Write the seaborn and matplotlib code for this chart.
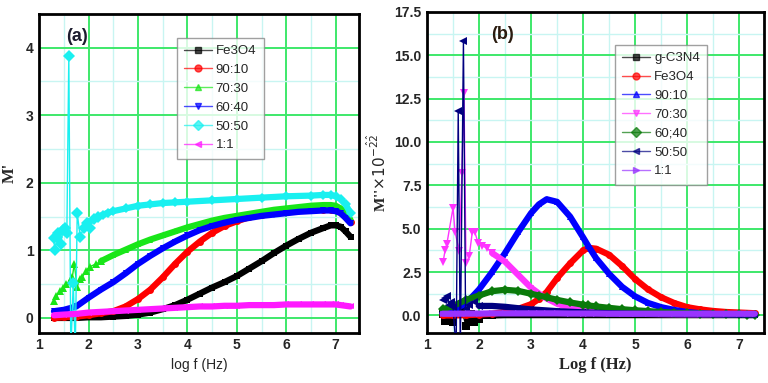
import matplotlib
matplotlib.use("Agg")
import matplotlib.pyplot as plt
from matplotlib.lines import Line2D
from matplotlib.ticker import MultipleLocator
import seaborn as sns

# ---------------- panel (a): M' vs log f ----------------
xa = [1.3, 1.5, 1.75, 2.0, 2.25, 2.5, 2.75, 3.0, 3.25, 3.5, 3.75, 4.0, 4.25, 4.5,
      4.75, 5.0, 5.25, 5.5, 5.75, 6.0, 6.25, 6.5, 6.75, 6.9, 7.0, 7.1, 7.2, 7.3]
fe3o4_a = [0.0, 0.0, 0.0, 0.01, 0.01, 0.02, 0.03, 0.05, 0.08, 0.13, 0.19, 0.27, 0.36, 0.45,
           0.53, 0.62, 0.73, 0.84, 0.96, 1.07, 1.17, 1.26, 1.33, 1.37, 1.37, 1.35, 1.28, 1.2]
r9010_a = [0.0, 0.01, 0.02, 0.04, 0.07, 0.1, 0.17, 0.28, 0.42, 0.6, 0.8, 0.98, 1.13, 1.26,
           1.36, 1.43, 1.49, 1.53, 1.56, 1.58, 1.6, 1.6, 1.6, 1.6, 1.59, 1.56, 1.5, 1.42]
r6040_a = [0.1, 0.12, 0.17, 0.3, 0.42, 0.53, 0.66, 0.8, 0.92, 1.03, 1.13, 1.22, 1.3, 1.36,
           1.41, 1.45, 1.48, 1.51, 1.53, 1.55, 1.57, 1.58, 1.59, 1.59, 1.58, 1.55, 1.48, 1.4]
r11_a = [0.04, 0.05, 0.06, 0.08, 0.09, 0.1, 0.11, 0.12, 0.13, 0.14, 0.15, 0.16, 0.17, 0.17,
         0.18, 0.18, 0.19, 0.19, 0.19, 0.2, 0.2, 0.2, 0.2, 0.2, 0.2, 0.19, 0.18, 0.17]

x7030_a = [1.29, 1.35, 1.42, 1.49, 1.55, 1.62, 1.67, 1.71, 1.77, 1.82, 1.87, 1.95, 2.03, 2.15,
           2.25, 2.5, 2.75, 3.0, 3.25, 3.5, 3.75, 4.0, 4.25, 4.5, 4.75, 5.0, 5.25, 5.5,
           5.75, 6.0, 6.25, 6.5, 6.75, 6.9, 7.0, 7.1, 7.2, 7.3]
r7030_a = [0.25, 0.32, 0.4, 0.45, 0.5, 0.55, 0.6, 0.8, 0.46, 0.58, 0.6, 0.7, 0.76, 0.8,
           0.84, 0.93, 1.01, 1.09, 1.16, 1.22, 1.28, 1.34, 1.39, 1.44, 1.48, 1.51, 1.54, 1.57,
           1.6, 1.62, 1.64, 1.66, 1.67, 1.67, 1.66, 1.62, 1.55, 1.45]

x5050_a = [1.29, 1.32, 1.36, 1.39, 1.44, 1.48, 1.52, 1.56, 1.6, 1.64, 1.69, 1.73, 1.77, 1.83,
           1.9, 1.96, 2.03, 2.1, 2.2, 2.3, 2.4, 2.5, 2.75, 3.0, 3.25, 3.5, 3.75, 4.0,
           4.5, 5.0, 5.5, 6.0, 6.5, 6.75, 6.9, 7.0, 7.1, 7.2, 7.3]
r5050_a = [1.18, 1.0, 1.2, 1.25, 1.1, 1.3, 1.33, 1.25, 3.88, -0.5, 0.52, -0.5, 1.55, 1.2,
           1.33, 1.4, 1.33, 1.47, 1.5, 1.53, 1.56, 1.58, 1.62, 1.66, 1.68, 1.7, 1.71, 1.72,
           1.74, 1.76, 1.78, 1.8, 1.81, 1.82, 1.82, 1.8, 1.76, 1.68, 1.55]

labels_a = ["Fe3O4", "90:10", "70:30", "60:40", "50:50", "1:1"]

# ---------------- panel (b): M'' vs log f ----------------
xb = [1.3, 1.5, 1.75, 2.0, 2.25, 2.5, 2.75, 3.0, 3.15, 3.3, 3.5, 3.75, 4.0, 4.1, 4.25,
      4.5, 4.75, 5.0, 5.25, 5.5, 5.75, 6.0, 6.25, 6.5, 6.75, 7.0, 7.15, 7.3]
fe3o4_b = [0.0, 0.0, 0.02, 0.05, 0.1, 0.2, 0.38, 0.65, 0.95, 1.35, 2.15, 3.0, 3.75, 3.9, 3.85,
           3.5, 2.85, 2.1, 1.5, 1.05, 0.72, 0.48, 0.35, 0.26, 0.2, 0.17, 0.15, 0.13]
r9010_b = [0.15, 0.3, 0.7, 1.5, 2.5, 3.6, 4.8, 5.9, 6.4, 6.7, 6.55, 5.7, 4.5, 4.0, 3.3,
           2.4, 1.65, 1.1, 0.72, 0.48, 0.32, 0.2, 0.13, 0.09, 0.06, 0.04, 0.03, 0.03]
r6040_b = [0.35, 0.55, 0.9, 1.15, 1.4, 1.48, 1.42, 1.25, 1.15, 1.05, 0.9, 0.75, 0.62, 0.58, 0.52,
           0.44, 0.36, 0.3, 0.25, 0.2, 0.16, 0.12, 0.1, 0.08, 0.07, 0.06, 0.05, 0.05]
r11_b = [0.1, 0.1, 0.11, 0.11, 0.12, 0.12, 0.12, 0.12, 0.12, 0.12, 0.12, 0.11, 0.11, 0.11, 0.11,
         0.1, 0.1, 0.1, 0.1, 0.1, 0.1, 0.1, 0.1, 0.1, 0.1, 0.1, 0.1, 0.1]

x7030_b = [1.31, 1.35, 1.38, 1.5, 1.54, 1.62, 1.67, 1.71, 1.75, 1.81, 1.87, 1.92, 1.98, 2.06,
           2.15, 2.25, 2.5, 2.75, 3.0, 3.25, 3.5, 3.75, 4.0, 4.5, 5.0, 5.5, 6.0, 6.5, 7.0, 7.3]
r7030_b = [3.1, 3.8, 4.1, 6.2, 4.8, 3.7, 8.2, 12.8, 3.0, 3.4, 4.8, 4.8, 4.2, 4.0,
           3.9, 3.6, 3.1, 2.35, 1.6, 1.05, 0.68, 0.45, 0.3, 0.16, 0.1, 0.08, 0.06, 0.05, 0.05, 0.05]

x5050_b = [1.3, 1.34, 1.38, 1.42, 1.46, 1.5, 1.56, 1.6, 1.64, 1.7, 1.74, 1.8, 1.9, 2.0,
           2.25, 2.5, 2.75, 3.0, 3.5, 4.0, 4.5, 5.0, 6.0, 7.0, 7.3]
r5050_b = [0.9, 1.0, 1.1, 0.6, 0.8, 0.5, -2.0, 11.8, -2.0, 15.8, 0.4, 0.6, 0.8, 0.55,
           0.55, 0.5, 0.42, 0.35, 0.25, 0.18, 0.13, 0.1, 0.07, 0.05, 0.05]

xgc_b = [1.3, 1.35, 1.4, 1.5, 1.55, 1.65, 1.75, 1.8, 1.85, 1.9, 2.0, 2.1, 2.25, 2.5,
         3.0, 4.0, 5.0, 6.0, 7.0, 7.3]
gc3n4_b = [0.1, -0.3, 0.3, -0.4, 0.2, 0.5, -0.6, -0.3, 0.1, -0.4, -0.2, 0.05, 0.0, 0.02,
           0.02, 0.02, 0.02, 0.02, 0.02, 0.02]

labels_b = ["g-C3N4", "Fe3O4", "90:10", "70:30", "60;40", "50:50", "1:1"]

sns.set_style("white")
plt.rcParams["font.family"] = ["Liberation Sans", "DejaVu Sans"]

fig = plt.figure(figsize=(7.68, 3.83), dpi=100)
ax_a = fig.add_axes([0.051, 0.131, 0.417, 0.833])
ax_b = fig.add_axes([0.556, 0.131, 0.439, 0.838])


def draw(ax, x, y, color, marker, lw=4.5, ms=5):
    sns.lineplot(x=x, y=y, ax=ax, color=color, marker=marker, markersize=ms,
                 markeredgewidth=0, linewidth=lw, estimator=None, sort=False,
                 legend=False, zorder=3)


def draw_noisy(ax, x, y, color, marker, split):
    # scattered low-frequency part: thin line, markers; smooth part: dense band
    draw(ax, x[:split + 1], y[:split + 1], color, marker, lw=1.0, ms=6)
    draw(ax, x[split:], y[split:], color, marker, lw=4.5, ms=5)


# panel (a)
cols_a = ["black", "#ff0000", "#19e619", "#0000ff", "#19f0f0", "#ff19ff"]
marks_a = ["s", "o", "^", "v", "D", "<"]
draw(ax_a, xa, fe3o4_a, cols_a[0], marks_a[0])
draw(ax_a, xa, r9010_a, cols_a[1], marks_a[1])
draw_noisy(ax_a, x7030_a, r7030_a, cols_a[2], marks_a[2], 14)
draw(ax_a, xa, r6040_a, cols_a[3], marks_a[3])
draw_noisy(ax_a, x5050_a, r5050_a, cols_a[4], marks_a[4], 18)
draw(ax_a, xa, r11_a, cols_a[5], marks_a[5])

# panel (b)
cols_b = ["black", "#ff0000", "#0000ff", "#ff33ff", "#0a7a0a", "#000080", "#9933ff"]
marks_b = ["s", "o", "^", "v", "D", "<", ">"]
draw_noisy(ax_b, xgc_b, gc3n4_b, cols_b[0], marks_b[0], 12)
draw(ax_b, xb, fe3o4_b, cols_b[1], marks_b[1])
draw(ax_b, xb, r9010_b, cols_b[2], marks_b[2])
draw_noisy(ax_b, x7030_b, r7030_b, cols_b[3], marks_b[3], 15)
draw(ax_b, xb, r6040_b, cols_b[4], marks_b[4])
draw_noisy(ax_b, x5050_b, r5050_b, cols_b[5], marks_b[5], 13)
draw(ax_b, xb, r11_b, cols_b[6], marks_b[6])

for ax, ylim, ymaj in [(ax_a, (-0.22, 4.5), 1), (ax_b, (-1.0, 17.5), 2.5)]:
    ax.set_xlim(1, 7.48)
    ax.set_ylim(*ylim)
    ax.xaxis.set_major_locator(MultipleLocator(1))
    ax.xaxis.set_minor_locator(MultipleLocator(0.5))
    ax.yaxis.set_major_locator(MultipleLocator(ymaj))
    ax.yaxis.set_minor_locator(MultipleLocator(ymaj / 2))
    ax.grid(which="minor", color="#c8f5f2", linewidth=1.0, zorder=0)
    ax.grid(which="major", color="#3ee86a", linewidth=1.4, zorder=1)
    ax.set_axisbelow(True)
    ax.tick_params(which="both", length=0, labelsize=10, pad=4)
    for lab in ax.get_xticklabels() + ax.get_yticklabels():
        lab.set_fontweight("bold")
    for sp in ax.spines.values():
        sp.set_visible(True)
        sp.set_color("black")
        sp.set_linewidth(2.0)

ax_a.set_yticks([0, 1, 2, 3, 4])
ax_a.set_yticklabels(["0", "1", "2", "3", "4"], fontweight="bold")
ax_b.set_yticks([0, 2.5, 5, 7.5, 10, 12.5, 15, 17.5])
ax_b.set_yticklabels(["0.0", "2.5", "5.0", "7.5", "10.0", "12.5", "15.0", "17.5"],
                     fontweight="bold")

ax_a.set_xlabel("log f (Hz)", fontsize=10, labelpad=4)
ax_a.set_ylabel("M'", fontsize=12, fontweight="bold", family="Liberation Serif", labelpad=6)
ax_b.set_xlabel("Log f (Hz)", fontsize=12, fontweight="bold", family="Liberation Serif",
                labelpad=3)
ax_b.set_ylabel(r"M''$\times10^{-\hat{2}\hat{2}}$", fontsize=11, fontweight="bold",
                family="Liberation Serif", labelpad=4)

ax_a.text(0.085, 0.955, "(a)", transform=ax_a.transAxes, fontsize=13, fontweight="bold",
          color="#1c1c2e", va="top")
ax_b.text(0.19, 0.955, "(b)", transform=ax_b.transAxes, fontsize=13, fontweight="bold",
          color="#2a1c10", va="top")


def handles(cols, marks):
    return [Line2D([0], [0], color=c, alpha=0.7, lw=1.0, marker=m, markersize=5,
                   markerfacecolor=c, markeredgecolor=c) for c, m in zip(cols, marks)]


for ax, cols, marks, labels, anchor in [
        (ax_a, cols_a, marks_a, labels_a, (0.43, 0.925)),
        (ax_b, cols_b, marks_b, labels_b, (0.558, 0.897))]:
    leg = ax.legend(handles(cols, marks), labels, loc="upper left", bbox_to_anchor=anchor,
                    fontsize=9.5, frameon=True, fancybox=False, handlelength=2.1,
                    labelspacing=0.5, borderpad=0.55, handletextpad=0.3,
                    borderaxespad=0)
    leg.get_frame().set_edgecolor("#888888")
    leg.get_frame().set_linewidth(1.0)
    leg.set_zorder(5)

fig.savefig("out.png", dpi=100)
